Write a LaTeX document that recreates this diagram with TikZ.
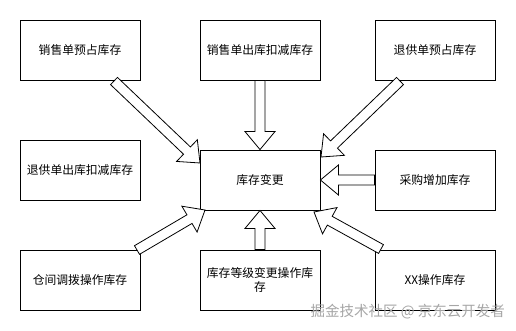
\documentclass[tikz,border=0pt]{standalone}
\usepackage{fontspec}
\newfontfamily\cjk{Noto Sans CJK SC}
\usetikzlibrary{calc}
\tikzset{
  box/.style={draw=black, line width=0.9pt, fill=white, minimum width=120pt, minimum height=60pt, inner sep=2pt, align=center, font=\cjk\fontsize{11.8}{14}\selectfont},
  barrowstyle/.style={draw=black, line width=0.8pt, fill=white, line join=miter},
}
% block arrow from #1 to #2
\newcommand\blockarr[2]{%
  \coordinate (bah) at ($(#2)!18pt!(#1)$);
  \draw[barrowstyle] ($(#1)!5pt!90:(#2)$) -- ($(bah)!5pt!-90:(#1)$) -- ($(bah)!15pt!-90:(#1)$) -- (#2) -- ($(bah)!15pt!90:(#1)$) -- ($(bah)!5pt!90:(#1)$) -- ($(#1)!5pt!-90:(#2)$) -- cycle;}
\begin{document}
\begin{tikzpicture}[x=1pt, y=-1pt]
\useasboundingbox[fill=white] (0,0) rectangle (516,331);
% nodes
\node[box] (s1) at (80,50) {销售单预占库存};
\node[box] (s2) at (260,50) {销售单出库扣减库存};
\node[box] (s3) at (435,50) {退供单预占库存};
\node[box] (r1) at (80,170) {退供单出库扣减库存};
\node[box] (c) at (260,180) {库存变更};
\node[box] (p) at (435,180) {采购增加库存};
\node[box] (t) at (80,280) {仓间调拨操作库存};
\node[box] (g) at (260,280) {库存等级变更操作库\\存};
\node[box] (x) at (435,280) {XX操作库存};
% connector endpoints
\coordinate (a1s) at (114,81);
\coordinate (a1e) at (200,163);
\coordinate (a3s) at (400,81);
\coordinate (a3e) at (321,157);
\coordinate (a5s) at (137,250);
\coordinate (a5e) at (205,210);
\coordinate (a7s) at (381,249);
\coordinate (a7e) at (314,212);
% arrows
\blockarr{a1s}{a1e}
\blockarr{s2.south}{c.north}
\blockarr{a3s}{a3e}
\blockarr{p.west}{c.east}
\blockarr{a5s}{a5e}
\blockarr{g.north}{c.south}
\blockarr{a7s}{a7e}
% watermark
\node[anchor=east, text=black!35, font=\cjk\fontsize{14.5}{16}\selectfont, inner sep=0pt] (wm) at (505,312) {掘金技术社区 @ 京东云开发者};
\end{tikzpicture}
\end{document}
